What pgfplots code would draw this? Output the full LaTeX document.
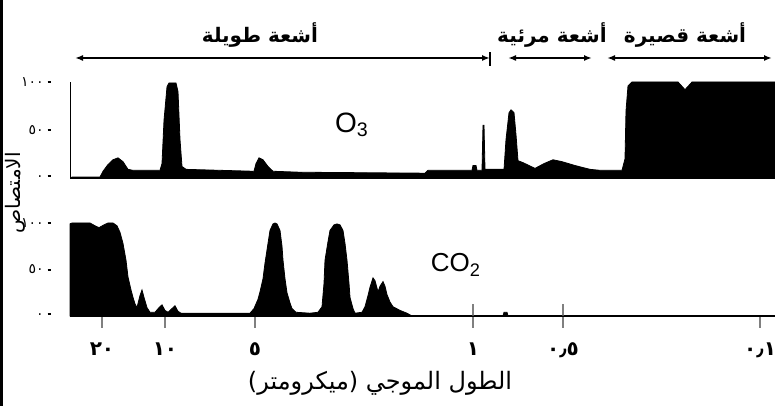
\documentclass[border=0pt]{standalone}
\usepackage{fontspec}
\usepackage{pgfplots}
\pgfplotsset{compat=1.18}
\usetikzlibrary{arrows.meta}
\setmainfont{Liberation Sans}
\newfontfamily\arabicfont[Script=Arabic]{DejaVu Sans}
\TeXXeTstate=1
\newcommand{\ar}[1]{\mbox{\arabicfont #1}}
\newcommand{\yl}[1]{\mbox{\arabicfont #1}\hspace{2pt}\rule[0.45ex]{1.6pt}{0.9pt}}

% x is the position across the chart (px of the 775 px wide figure), y is absorption in %
\pgfplotsset{
  panel/.style={
    scale only axis, anchor=south west,
    width=352.5pt, xmin=70, xmax=775, ymin=0, ymax=100,
    enlargelimits=false, clip=false,
    axis x line*=bottom, axis y line*=left,
    axis line style={-},
    x axis line style={line width=1pt},
    y axis line style={line width=0.4pt},
    ytick={0,50,100},
    yticklabels={\yl{٠},\yl{٥٠},\yl{١٠٠}},
    yticklabel style={font=\scriptsize, xshift=0pt},
    ytick style={draw=none},
    tick align=outside, major tick length=6pt,
  },
}

\begin{document}
\begin{tikzpicture}
\useasboundingbox (0,0) rectangle (387.5pt,203pt);

% O3
\begin{axis}[panel, at={(35pt,114pt)}, height=48pt, xtick=\empty]
\addplot[fill=black, draw=black, line width=0.4pt] coordinates {
(72,1) (100,1) (103,7) (108,14) (113,19) (118,21) (123,17) (128,9) (133,8)
(160,8) (162,15) (164,60) (167,95) (169,99) (176,99) (178,90) (180,40) (182,12)
(186,9) (220,8) (254,7) (256,15) (259,21) (263,19) (268,12) (273,7) (300,6)
(425,5) (428,8) (472,8) (473,13) (476,13) (477,8) (482,8) (483,55) (484,55)
(485,9) (504,9) (506,40) (509,68) (511,71) (514,68) (516,45) (518,18) (523,16)
(527,14) (535,10) (544,15) (553,19) (562,17) (575,13) (590,9) (600,8) (622,8)
(625,20) (626,70) (628,96) (632,100) (678,100) (685,92) (692,100) (775,100)
} \closedcycle;
\end{axis}

% CO2
\begin{axis}[panel, at={(35pt,45pt)}, height=46.5pt,
  xtick={102,165,255,473,563,760},
  xticklabels={\ar{٢٠},\ar{١٠},\ar{٥},\ar{١},\ar{٠٫٥},\ar{٠٫١}},
  xticklabel style={font=\bfseries\normalsize, yshift=-4pt},
  xtick style={line width=0.8pt},
  extra x ticks={473,563}, extra x tick labels={},
  extra x tick style={tick align=inside},
]
\addplot[fill=black, draw=black, line width=0.4pt] coordinates {
(70,0) (70,99) (72,100) (90,100) (95,97) (99,95) (104,98) (108,100) (113,100)
(117,97) (120,90) (123,78) (126,60) (128,42) (131,28) (133,20) (135,13) (137,9)
(140,22) (142,28) (144,20) (147,9) (150,4) (155,4) (159,9) (162,12) (165,6)
(168,4) (172,8) (175,11) (178,5) (181,3) (250,3) (254,8) (258,18) (260,26)
(263,40) (265,57) (268,78) (270,92) (273,99) (275,100) (277,99) (280,92) (282,75)
(283,60) (285,40) (287,25) (290,14) (292,8) (296,4) (310,3) (318,4) (322,10)
(324,35) (325,60) (328,80) (330,92) (334,98) (337,99) (340,98) (343,92) (345,78)
(347,60) (349,35) (350,20) (353,8) (355,3) (362,4) (365,10) (368,22) (370,31)
(373,41) (375,38) (378,26) (380,32) (383,37) (385,32) (387,23) (390,15) (393,10)
(400,6) (407,3) (412,0) (503,0) (504,4) (507,4) (508,0) (775,0)
} \closedcycle;
\end{axis}

% labels and the bands of the spectrum, in px of the figure (y from the bottom)
\begin{scope}[x=0.5pt, y=0.5pt]
\fill (0,0) rectangle (3,406);
\node[font=\fontsize{14}{14}\selectfont] at (352,281) {O\textsubscript{3}};
\node[font=\fontsize{13}{13}\selectfont] at (456,141) {CO\textsubscript{2}};
\node[font=\arabicfont\fontsize{12}{12}\selectfont] at (380,23) {\beginR الطول الموجي (ميكرومتر)\endR};
\node[font=\arabicfont\fontsize{10}{10}\selectfont, rotate=90] at (15,213) {\beginR الامتصاص\endR};
\node[font=\arabicfont\bfseries\fontsize{10}{10}\selectfont] at (260,371) {\beginR أشعة طويلة\endR};
\node[font=\arabicfont\bfseries\fontsize{10}{10}\selectfont] at (552,371) {\beginR أشعة مرئية\endR};
\node[font=\arabicfont\bfseries\fontsize{10}{10}\selectfont] at (685,371) {\beginR أشعة قصيرة\endR};
\begin{scope}[line width=0.8pt, {Latex[length=4pt,width=3pt]}-{Latex[length=4pt,width=3pt]}]
\draw (75,348) -- (490,348);
\draw (508,348) -- (592,348);
\draw (607,348) -- (772,348);
\end{scope}
\draw[line width=0.6pt] (490,340) -- (490,354);
\end{scope}
\end{tikzpicture}
\end{document}
